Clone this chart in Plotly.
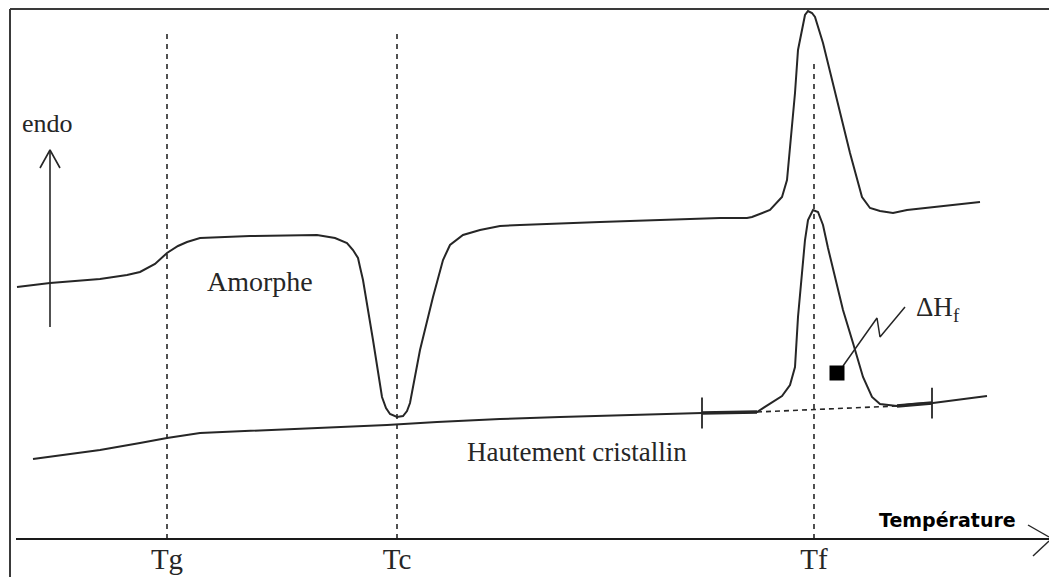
import numpy as np
import plotly.graph_objects as go

# ---------------- data (temperature axis units, heat-flow units; endo up) ----------------
transition_labels = ["Tg", "Tc", "Tf"]
transition_T = [167, 397, 814]
transition_line_top = [547, 547, 517]

amorphe_T = [17, 50, 100, 127, 140, 155, 167, 178, 187, 200, 250, 300, 317, 335, 347, 353,
             358, 360, 363, 373, 382, 386, 390, 397, 403, 407, 410, 420, 433, 443, 450, 463,
             480, 500, 520, 600, 680, 720, 747, 752, 770, 782, 787, 790, 795, 798, 805, 808,
             812, 815, 823, 837, 850, 862, 870, 880, 893, 907, 947, 980]
amorphe_H = [290, 294, 298, 302, 305, 313, 324, 331, 335, 339, 341, 342, 342, 339, 334, 327,
             319, 310, 297, 237, 180, 169, 163, 160, 161, 166, 174, 227, 280, 317, 332, 342,
             347, 351, 352, 355, 358, 359, 359, 360, 367, 380, 397, 427, 484, 527, 562, 566,
             564, 560, 534, 477, 424, 380, 369, 366, 364, 367, 371, 375]

cristallin_T = [33, 100, 140, 167, 200, 300, 340, 387, 437, 500, 560, 630, 680, 702, 757, 770,
                782, 790, 795, 798, 802, 805, 808, 813, 818, 823, 828, 843, 853, 863, 872, 880,
                897, 913, 933, 987]
cristallin_H = [118, 127, 134, 139, 144, 148, 150, 152, 155, 158, 160, 162, 164, 164, 165, 173,
                181, 192, 210, 260, 307, 337, 357, 367, 365, 352, 329, 267, 234, 200, 180, 173,
                171, 173, 174, 181]

# integration limits of the melting peak and baseline ends
integ_limits = [702, 932]
peak_base = [757, 897]

labels = {"amorphe": "Amorphe", "cristallin": "Hautement cristallin",
          "endo": "endo", "xtitle": "Température", "dh": "ΔH<sub>f</sub>"}

# ΔHf pointer (square and zig-zag leader)
dh_square = (837, 204)
dh_leader_T = [843, 877, 880, 905]
dh_leader_H = [211, 259, 240, 270]

# ---------------- figure ----------------
ink = "#262626"
serif = "Liberation Serif"
fig = go.Figure()

# transition dashed lines
for t, top in zip(transition_T, transition_line_top):
    fig.add_trace(go.Scatter(x=[t, t], y=[38, top], mode="lines",
                             line=dict(color=ink, width=1.6, dash="5px,5px"),
                             hoverinfo="skip", showlegend=False))

# curves
fig.add_trace(go.Scatter(x=amorphe_T, y=amorphe_H, mode="lines",
                         line=dict(color=ink, width=2), showlegend=False))
fig.add_trace(go.Scatter(x=cristallin_T, y=cristallin_H, mode="lines",
                         line=dict(color=ink, width=2), showlegend=False))

# thick baseline pieces around the melting peak
for a, b in [(integ_limits[0], peak_base[0]), (peak_base[1], integ_limits[1])]:
    xs = [a, b]
    fig.add_trace(go.Scatter(x=xs, y=list(np.interp(xs, cristallin_T, cristallin_H)),
                             mode="lines", line=dict(color=ink, width=3.5), showlegend=False))

# dashed integration baseline
bx = peak_base
fig.add_trace(go.Scatter(x=bx, y=list(np.interp(bx, cristallin_T, cristallin_H)), mode="lines",
                         line=dict(color=ink, width=1.6, dash="5px,4px"), showlegend=False))

# integration limit ticks
fig.add_trace(go.Scatter(x=integ_limits, y=list(np.interp(integ_limits, cristallin_T, cristallin_H)),
                         mode="markers",
                         marker=dict(symbol="line-ns-open", size=22, color=ink,
                                     line=dict(color=ink, width=1.8)),
                         showlegend=False))

# ΔHf square + leader
fig.add_trace(go.Scatter(x=dh_leader_T, y=dh_leader_H, mode="lines",
                         line=dict(color=ink, width=1.5), showlegend=False))
fig.add_trace(go.Scatter(x=[dh_square[0]], y=[dh_square[1]], mode="markers",
                         marker=dict(symbol="square", size=15, color="black"), showlegend=False))

# endo arrow
fig.add_trace(go.Scatter(x=[50, 50, None, 40, 50, 60], y=[250, 427, None, 409, 427, 409],
                         mode="lines", line=dict(color=ink, width=1.6), showlegend=False))

# frame + x axis line & arrow
shapes = [
    dict(type="line", x0=10, x1=1049, y0=568, y1=568, line=dict(color="#3a3a3a", width=2)),
    dict(type="line", x0=10, x1=10, y0=0, y1=568, line=dict(color="#3a3a3a", width=2)),
    dict(type="line", x0=16, x1=1049, y0=38, y1=38, line=dict(color="#1a1a1a", width=2)),
    dict(type="line", x0=1028, x1=1049, y0=52, y1=40, line=dict(color=ink, width=1.4)),
    dict(type="line", x0=1033, x1=1049, y0=21, y1=36, line=dict(color=ink, width=1.4)),
]
for s in shapes:
    s.update(xref="x", yref="y", layer="above")

annotations = [
    dict(x=47, y=454, text=labels["endo"], font=dict(family=serif, size=26, color=ink)),
    dict(x=260, y=296, text=labels["amorphe"], font=dict(family=serif, size=28, color=ink)),
    dict(x=577, y=125, text=labels["cristallin"], font=dict(family=serif, size=27, color=ink)),
    dict(x=938, y=268, text=labels["dh"], font=dict(family=serif, size=27, color=ink)),
    dict(x=947, y=57, text="<b>" + labels["xtitle"] + "</b>",
         font=dict(family="DejaVu Sans", size=19, color="black")),
]
for a in annotations:
    a.update(xref="x", yref="y", showarrow=False, xanchor="center", yanchor="middle")

fig.update_layout(
    width=1049, height=577,
    margin=dict(l=0, r=0, t=0, b=0),
    paper_bgcolor="white", plot_bgcolor="white",
    shapes=shapes, annotations=annotations,
    xaxis=dict(range=[0, 1049], anchor="free", position=38 / 577, showline=False,
               showgrid=False, zeroline=False, ticks="", tickvals=transition_T,
               ticktext=transition_labels, tickfont=dict(family=serif, size=29, color=ink),
               automargin=False, fixedrange=True),
    yaxis=dict(range=[0, 577], visible=False, fixedrange=True),
    showlegend=False,
)

fig.write_html("out.html")
